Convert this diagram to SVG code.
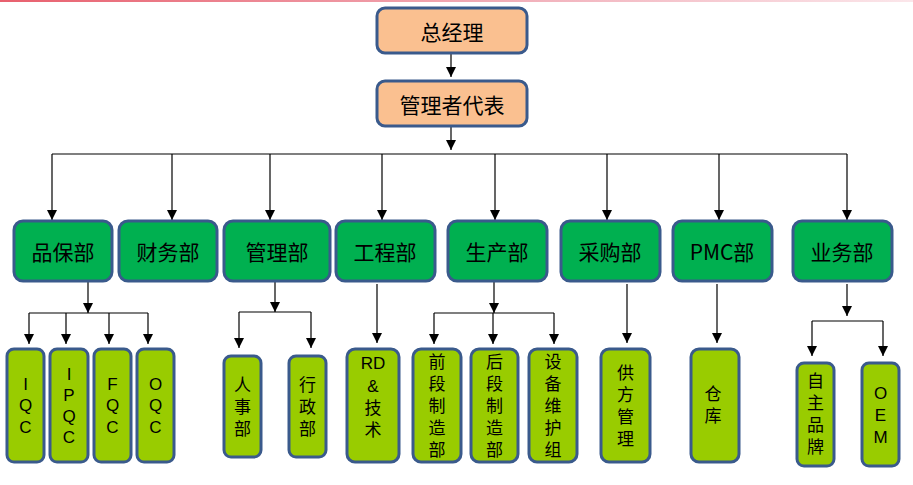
<svg xmlns="http://www.w3.org/2000/svg" width="913" height="485" viewBox="0 0 913 485">
<defs>
<linearGradient id="topg" x1="0" y1="0" x2="1" y2="0">
<stop offset="0" stop-color="#E8606E"/>
<stop offset="0.6" stop-color="#F2B4BE"/>
<stop offset="1" stop-color="#FBE6EA"/>
</linearGradient>
<marker id="ah" viewBox="0 0 10 10" refX="10" refY="5" markerWidth="10" markerHeight="10" markerUnits="userSpaceOnUse" orient="auto">
<path d="M0,0 L10,5 L0,10 z" fill="#000"/>
</marker>
<style>
.top rect{fill:#FAC090;stroke:#3A5A8C;stroke-width:3}
.dept rect{fill:#00B050;stroke:#3A5A8C;stroke-width:3}
.sub rect{fill:#99CC00;stroke:#3A5A8C;stroke-width:3}
text{font-family:"Noto Sans CJK SC","Liberation Sans",sans-serif;fill:#000;text-anchor:middle;dominant-baseline:central}
.top text,.dept text{font-size:21px}
.sub text{font-size:17px}
.sub text.v{writing-mode:vertical-rl;letter-spacing:5px}
.lat{font-family:"Liberation Sans","Noto Sans CJK SC",sans-serif;font-size:16px}
.conn line,.conn path{stroke:#000;stroke-width:1.2;fill:none}
.conn .a{marker-end:url(#ah)}
</style>
</defs>
<rect x="0" y="0" width="913" height="2" fill="url(#topg)"/>

<g class="conn">
<line class="a" x1="451" y1="53" x2="451" y2="77"/>
<line class="a" x1="451" y1="126" x2="451" y2="150"/>
<path d="M52,154 H847"/>
<line class="a" x1="52" y1="154" x2="52" y2="220"/>
<line class="a" x1="172" y1="154" x2="172" y2="220"/>
<line class="a" x1="270" y1="154" x2="270" y2="220"/>
<line class="a" x1="382" y1="154" x2="382" y2="220"/>
<line class="a" x1="495" y1="154" x2="495" y2="220"/>
<line class="a" x1="607" y1="154" x2="607" y2="220"/>
<line class="a" x1="719" y1="154" x2="719" y2="220"/>
<line class="a" x1="847" y1="154" x2="847" y2="220"/>

<line class="a" x1="88" y1="282" x2="88" y2="313"/>
<path d="M29,313 H148"/>
<line class="a" x1="29" y1="313" x2="29" y2="344"/>
<line class="a" x1="66" y1="313" x2="66" y2="344"/>
<line class="a" x1="109" y1="313" x2="109" y2="344"/>
<line class="a" x1="148" y1="313" x2="148" y2="344"/>

<line class="a" x1="275" y1="282" x2="275" y2="312"/>
<path d="M239,312 H311"/>
<line class="a" x1="239" y1="312" x2="239" y2="348"/>
<line class="a" x1="311" y1="312" x2="311" y2="348"/>

<line class="a" x1="377" y1="284" x2="377" y2="343"/>

<line class="a" x1="494" y1="282" x2="494" y2="313"/>
<path d="M434,313 H554"/>
<line class="a" x1="434" y1="313" x2="434" y2="344"/>
<line class="a" x1="493" y1="313" x2="493" y2="344"/>
<line class="a" x1="554" y1="313" x2="554" y2="344"/>

<line class="a" x1="627" y1="284" x2="627" y2="343"/>
<line class="a" x1="717" y1="284" x2="717" y2="343"/>

<line class="a" x1="847" y1="284" x2="847" y2="316"/>
<path d="M812,321 H883"/>
<line class="a" x1="812" y1="321" x2="812" y2="356"/>
<line class="a" x1="883" y1="321" x2="883" y2="356"/>
</g>

<g id="n-gm" class="top"><rect x="377" y="8" width="150" height="45" rx="8"/><text x="452" y="31">总经理</text></g>
<g id="n-mr" class="top"><rect x="377" y="81" width="150" height="45" rx="8"/><text x="452" y="104">管理者代表</text></g>

<g id="n-qa" class="dept"><rect x="14" y="221" width="98" height="60" rx="9"/><text x="63" y="251">品保部</text></g>
<g id="n-fin" class="dept"><rect x="119" y="221" width="98" height="60" rx="9"/><text x="168" y="251">财务部</text></g>
<g id="n-adm" class="dept"><rect x="224" y="221" width="106" height="60" rx="9"/><text x="277" y="251">管理部</text></g>
<g id="n-eng" class="dept"><rect x="336" y="221" width="99" height="60" rx="9"/><text x="385" y="251">工程部</text></g>
<g id="n-prod" class="dept"><rect x="448" y="221" width="99" height="60" rx="9"/><text x="497" y="251">生产部</text></g>
<g id="n-pur" class="dept"><rect x="561" y="221" width="99" height="60" rx="9"/><text x="610" y="251">采购部</text></g>
<g id="n-pmc" class="dept"><rect x="673" y="221" width="99" height="60" rx="9"/><text x="722" y="251">PMC部</text></g>
<g id="n-biz" class="dept"><rect x="793" y="221" width="99" height="60" rx="9"/><text x="842" y="251">业务部</text></g>

<g id="n-iqc" class="sub"><rect x="7" y="349" width="37" height="113" rx="7"/>
<text class="lat"><tspan x="25.5" y="384">I</tspan><tspan x="25.5" y="405">Q</tspan><tspan x="25.5" y="427">C</tspan></text></g>
<g id="n-ipqc" class="sub"><rect x="50" y="349" width="38" height="113" rx="7"/>
<text class="lat"><tspan x="69" y="374">I</tspan><tspan x="69" y="395">P</tspan><tspan x="69" y="416">Q</tspan><tspan x="69" y="437">C</tspan></text></g>
<g id="n-fqc" class="sub"><rect x="94" y="349" width="37" height="113" rx="7"/>
<text class="lat"><tspan x="112.5" y="384">F</tspan><tspan x="112.5" y="405">Q</tspan><tspan x="112.5" y="427">C</tspan></text></g>
<g id="n-oqc" class="sub"><rect x="137" y="349" width="37" height="113" rx="7"/>
<text class="lat"><tspan x="155.5" y="384">O</tspan><tspan x="155.5" y="405">Q</tspan><tspan x="155.5" y="427">C</tspan></text></g>

<g id="n-hr" class="sub"><rect x="224" y="356" width="37" height="101" rx="7"/>
<text class="v" x="242.5" y="409.5">人事部</text></g>
<g id="n-ad" class="sub"><rect x="289" y="356" width="37" height="101" rx="7"/>
<text class="v" x="307.5" y="409.5">行政部</text></g>

<g id="n-rd" class="sub"><rect x="347" y="349" width="52" height="113" rx="8"/>
<text class="lat"><tspan x="373" y="363">RD</tspan><tspan x="373" y="386">&amp;</tspan></text>
<text class="v" x="373" y="421.5">技术</text></g>

<g id="n-front" class="sub"><rect x="413" y="349" width="48" height="113" rx="8"/>
<text class="v" x="437" y="408.5">前段制造部</text></g>
<g id="n-back" class="sub"><rect x="471" y="349" width="47" height="113" rx="8"/>
<text class="v" x="494.5" y="408.5">后段制造部</text></g>
<g id="n-maint" class="sub"><rect x="529" y="349" width="48" height="113" rx="8"/>
<text class="v" x="553" y="408.5">设备维护组</text></g>

<g id="n-sup" class="sub"><rect x="601" y="349" width="49" height="113" rx="8"/>
<text class="v" x="625.5" y="408.5">供方管理</text></g>
<g id="n-wh" class="sub"><rect x="691" y="349" width="48" height="113" rx="8"/>
<text class="v" x="713" y="407.5">仓库</text></g>

<g id="n-own" class="sub"><rect x="797" y="363" width="37" height="103" rx="7"/>
<text class="v" x="815.5" y="416">自主品牌</text></g>
<g id="n-oem" class="sub"><rect x="862" y="363" width="37" height="103" rx="7"/>
<text class="lat"><tspan x="880.5" y="393">O</tspan><tspan x="880.5" y="415">E</tspan><tspan x="880.5" y="437">M</tspan></text></g>
</svg>
